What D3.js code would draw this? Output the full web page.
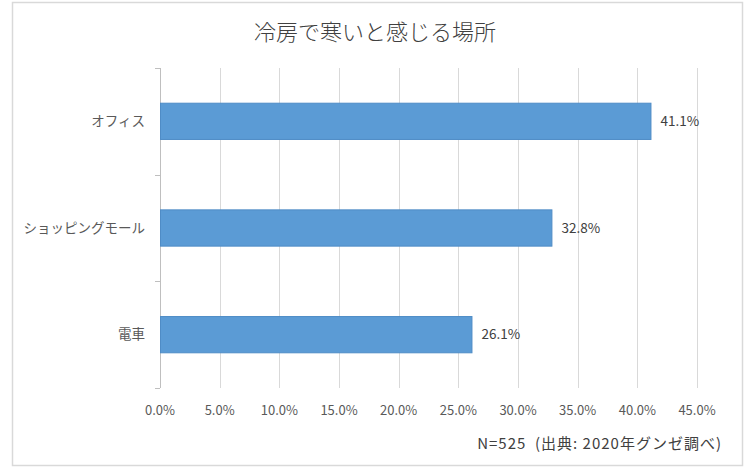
<!DOCTYPE html>
<html><head><meta charset="utf-8">
<script src="https://cdn.jsdelivr.net/npm/d3@7"></script>
<style>
html,body{margin:0;padding:0;background:#fff;}
svg{display:block;font-family:"Noto Sans CJK JP","Noto Sans",sans-serif;}
text{white-space:pre;}
</style></head>
<body>
<script>
const categories = ["オフィス", "ショッピングモール", "電車"];
const values = [41.1, 32.8, 26.1];
const xTicks = [0, 5, 10, 15, 20, 25, 30, 35, 40, 45];
const title = "冷房で寒いと感じる場所";
const note = "N=525  (出典: 2020年グンゼ調べ)";

(function () {
const W = 750, H = 470;
const svg = d3.select("body").append("svg").attr("width", W).attr("height", H);

svg.append("rect").attr("x", 12.5).attr("y", 2.5).attr("width", 730).attr("height", 463)
  .attr("fill", "#fff").attr("stroke", "#d9d9d9").attr("stroke-width", 1.5);

const pLeft = 160, pRight = 697, pTop = 68, pBottom = 388;
const x = d3.scaleLinear().domain([0, 45]).range([pLeft, pRight]);
const y = d3.scaleBand().domain(categories).range([pTop, pBottom]).paddingInner(0.66).paddingOuter(0.33);

svg.append("g").selectAll("line").data(xTicks).join("line")
  .attr("x1", d => Math.round(x(d)) + 0.5).attr("x2", d => Math.round(x(d)) + 0.5)
  .attr("y1", pTop).attr("y2", pBottom)
  .attr("stroke", "#d9d9d9").attr("stroke-width", 1);

const axisG = svg.append("g");
axisG.append("line").attr("x1", pLeft + 0.5).attr("x2", pLeft + 0.5).attr("y1", pTop).attr("y2", pBottom)
  .attr("stroke", "#bfbfbf");
const bandStep = (pBottom - pTop) / categories.length;
axisG.selectAll("line.t").data(d3.range(categories.length + 1)).join("line").attr("class", "t")
  .attr("x1", pLeft - 5).attr("x2", pLeft)
  .attr("y1", d => Math.round(pTop + d * bandStep) + 0.5).attr("y2", d => Math.round(pTop + d * bandStep) + 0.5)
  .attr("stroke", "#bfbfbf");

svg.append("g").selectAll("rect").data(values).join("rect")
  .attr("x", x(0) + 0.5)
  .attr("y", (d, i) => y(categories[i]))
  .attr("width", d => x(d) - x(0))
  .attr("height", y.bandwidth())
  .attr("fill", "#5b9bd5").attr("stroke", "#4f8cc6").attr("stroke-width", 1);

svg.append("g").selectAll("text").data(values).join("text")
  .attr("x", d => x(d) + 10)
  .attr("y", (d, i) => y(categories[i]) + y.bandwidth() / 2)
  .attr("dy", "0.35em")
  .attr("font-size", 13.5).attr("fill", "#404040")
  .text(d => d.toFixed(1) + "%");

svg.append("g").selectAll("text").data(categories).join("text")
  .attr("x", 145).attr("y", d => y(d) + y.bandwidth() / 2)
  .attr("dy", "0.35em").attr("text-anchor", "end")
  .attr("font-size", 13.5).attr("fill", "#595959")
  .text(d => d);

svg.append("g").selectAll("text").data(xTicks).join("text")
  .attr("x", d => x(d)).attr("y", 410).attr("dy", "0.35em").attr("text-anchor", "middle")
  .attr("font-size", 13).attr("fill", "#595959")
  .text(d => d.toFixed(1) + "%");

svg.append("text").attr("x", 375).attr("y", 32).attr("dy", "0.35em").attr("text-anchor", "middle")
  .attr("font-size", 22).attr("font-weight", 300).attr("fill", "#404040").text(title);

svg.append("text").attr("x", 722).attr("y", 444).attr("dy", "0.35em").attr("text-anchor", "end")
  .attr("font-size", 15).attr("letter-spacing", 1).attr("fill", "#404040").text(note);
})();
</script>
</body></html>
